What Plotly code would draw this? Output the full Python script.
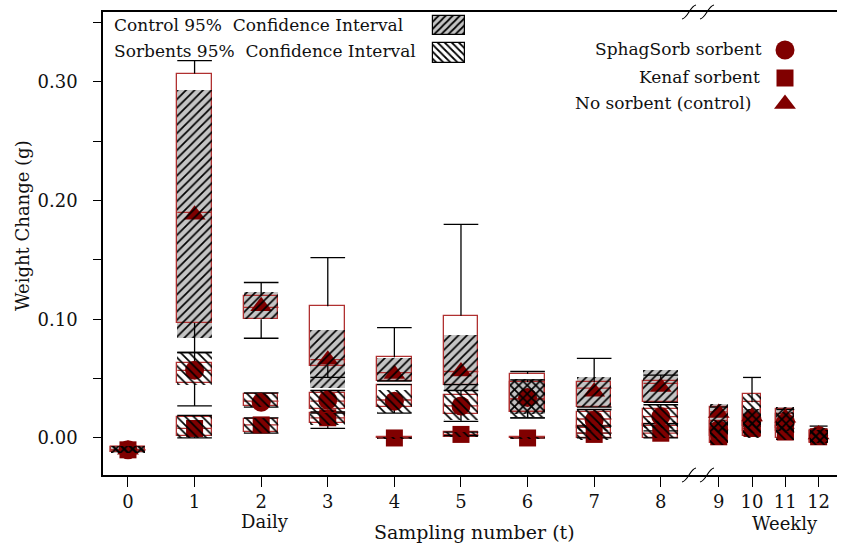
import plotly.graph_objects as go

# ---- data -------------------------------------------------------------
sampling_t = list(range(13))
tick_text = [str(t) for t in sampling_t]

# No sorbent (control)
ctrl_mean   = [-0.010, 0.188, 0.111, 0.066, 0.054, 0.056, 0.033, 0.039, 0.043, 0.021, 0.018, 0.017, 0.003]
ctrl_median = [-0.010, 0.190, 0.110, 0.066, 0.055, 0.056, 0.033, 0.042, 0.046, 0.022, 0.019, 0.016, 0.002]
ctrl_q1     = [-0.012, 0.097, 0.100, 0.061, 0.048, 0.045, 0.022, 0.026, 0.030, 0.007, 0.010, 0.008, -0.004]
ctrl_q3     = [-0.008, 0.307, 0.120, 0.111, 0.068, 0.103, 0.054, 0.047, 0.048, 0.026, 0.030, 0.024, 0.007]
ctrl_ci_lo  = [-0.013, 0.084, 0.100, 0.042, 0.048, 0.040, 0.020, 0.026, 0.030, 0.005, 0.008, 0.006, -0.004]
ctrl_ci_hi  = [-0.007, 0.293, 0.123, 0.091, 0.067, 0.087, 0.050, 0.051, 0.057, 0.029, 0.024, 0.026, 0.008]
ctrl_w_lo   = [None, 0.072, 0.084, 0.051, 0.048, 0.045, 0.017, 0.026, 0.030, 0.012, 0.010, 0.008, 0.001]
ctrl_w_hi   = [None, 0.318, 0.131, 0.152, 0.093, 0.180, 0.056, 0.067, 0.053, 0.026, 0.051, 0.024, 0.010]

# SphagSorb sorbent
sph_mean   = [-0.010, 0.057, 0.030, 0.032, 0.031, 0.027, 0.034, 0.015, 0.018, 0.007, 0.015, 0.013, 0.002]
sph_median = [-0.010, 0.057, 0.031, 0.031, 0.032, 0.027, 0.033, 0.016, 0.018, 0.008, 0.016, 0.012, 0.002]
sph_q1     = [-0.012, 0.046, 0.027, 0.024, 0.026, 0.020, 0.022, 0.008, 0.010, 0.002, 0.006, 0.006, -0.003]
sph_q3     = [-0.008, 0.063, 0.037, 0.038, 0.045, 0.036, 0.047, 0.022, 0.024, 0.014, 0.037, 0.020, 0.006]
sph_ci_lo  = [-0.013, 0.045, 0.026, 0.022, 0.021, 0.015, 0.018, 0.006, 0.008, 0.000, 0.004, 0.004, -0.004]
sph_ci_hi  = [-0.007, 0.072, 0.038, 0.040, 0.040, 0.040, 0.049, 0.024, 0.028, 0.015, 0.037, 0.022, 0.007]
sph_w_lo   = [None, 0.027, 0.026, 0.022, 0.021, 0.014, 0.017, 0.004, 0.006, None, None, None, None]
sph_w_hi   = [None, 0.072, 0.038, 0.040, 0.045, 0.040, 0.049, 0.024, 0.028, None, None, None, None]

# Kenaf sorbent
ken_mean   = [-0.010, 0.008, 0.011, 0.017, 0.000, 0.003, 0.000, 0.003, 0.004, 0.001, 0.008, 0.005, 0.001]
ken_median = [-0.010, 0.008, 0.011, 0.017, 0.000, 0.003, 0.000, 0.004, 0.004, 0.001, 0.008, 0.005, 0.001]
ken_q1     = [-0.012, 0.002, 0.005, 0.013, 0.000, 0.001, 0.000, 0.000, 0.000, -0.004, 0.002, 0.000, -0.004]
ken_q3     = [-0.008, 0.018, 0.016, 0.021, 0.001, 0.005, 0.001, 0.010, 0.012, 0.006, 0.013, 0.010, 0.006]
ken_ci_lo  = [-0.013, 0.000, 0.004, 0.011, -0.001, 0.001, -0.001, -0.002, 0.000, -0.006, 0.000, -0.002, -0.006]
ken_ci_hi  = [-0.007, 0.019, 0.017, 0.021, 0.001, 0.005, 0.001, 0.012, 0.014, 0.008, 0.014, 0.010, 0.007]
ken_w_lo   = [None, 0.000, 0.004, 0.008, 0.000, 0.002, 0.000, 0.000, 0.000, None, None, None, None]
ken_w_hi   = [None, 0.019, 0.017, 0.021, 0.000, 0.005, 0.000, 0.010, 0.012, None, None, None, None]

# ---- styling ----------------------------------------------------------
FONT = "DejaVu Serif"
MARK = "#800000"
BOXRED = "#b03030"
GRAY = "#c4c4c4"
TXT = "#111"
X_RANGE = [-0.375, 10.646]
Y_RANGE = [-0.0312, 0.3589]


def xpos(t):
    """Daily samples are spaced one unit apart, weekly ones half a unit after the break."""
    return t if t <= 8 else 8.87 + 0.5 * (t - 9)


def bwidth(t):
    return 0.52 if t <= 8 else 0.27


X = [xpos(t) for t in sampling_t]
W = [bwidth(t) for t in sampling_t]

fig = go.Figure()


def ci_fill(lo, hi, color):
    fig.add_trace(go.Bar(x=X, y=[h - l for l, h in zip(lo, hi)], base=lo, width=W,
                         marker=dict(color=color, line=dict(width=0)),
                         showlegend=False, hoverinfo="skip"))


def ci_hatch(lo, hi, shape):
    fig.add_trace(go.Bar(x=X, y=[h - l for l, h in zip(lo, hi)], base=lo, width=W,
                         xaxis="x2", yaxis="y2",
                         marker=dict(color="black", line=dict(width=0),
                                     pattern=dict(shape=shape, fgcolor="black",
                                                  bgcolor="rgba(0,0,0,0)",
                                                  size=6, solidity=0.28,
                                                  fillmode="replace")),
                         showlegend=False, hoverinfo="skip"))


def box_outline(q1, q3):
    fig.add_trace(go.Bar(x=X, y=[b - a for a, b in zip(q1, q3)], base=q1, width=W,
                         marker=dict(color="rgba(0,0,0,0)", line=dict(color=BOXRED, width=1.3)),
                         showlegend=False, hoverinfo="skip"))


def median_lines(med):
    xs, ys = [], []
    for x, w, m in zip(X, W, med):
        xs += [x - w / 2, x + w / 2, None]
        ys += [m, m, None]
    fig.add_trace(go.Scatter(x=xs, y=ys, mode="lines",
                             line=dict(color=BOXRED, width=1.3),
                             showlegend=False, hoverinfo="skip"))


def whiskers(lo, hi, q1, q3):
    """Whisker stems run from the box edges out to the capped ends."""
    xs, ys = [], []
    for x, w, a, b, bl, bh in zip(X, W, lo, hi, q1, q3):
        if a is None:
            continue
        if b > bh:
            xs += [x, x, None]
            ys += [bh, b, None]
        if a < bl:
            xs += [x, x, None]
            ys += [a, bl, None]
        for end in (a, b):
            xs += [x - w / 2, x + w / 2, None]
            ys += [end, end, None]
    fig.add_trace(go.Scatter(x=xs, y=ys, mode="lines",
                             line=dict(color="black", width=1.3),
                             showlegend=False, hoverinfo="skip"))


# CI backgrounds (sorbents white, control grey)
ci_fill(sph_ci_lo, sph_ci_hi, "white")
ci_fill(ken_ci_lo, ken_ci_hi, "white")
ci_fill(ctrl_ci_lo, ctrl_ci_hi, GRAY)

# red boxes
for q1, q3 in ((ctrl_q1, ctrl_q3), (sph_q1, sph_q3), (ken_q1, ken_q3)):
    box_outline(q1, q3)

# whiskers and medians
whiskers(ctrl_w_lo, ctrl_w_hi, ctrl_q1, ctrl_q3)
whiskers(sph_w_lo, sph_w_hi, sph_q1, sph_q3)
whiskers(ken_w_lo, ken_w_hi, ken_q1, ken_q3)
for med in (ctrl_median, sph_median, ken_median):
    median_lines(med)

# means
fig.add_trace(go.Scatter(x=X, y=ken_mean, mode="markers", name="Kenaf sorbent",
                         marker=dict(symbol="square", size=17, color=MARK), showlegend=False))
fig.add_trace(go.Scatter(x=X, y=sph_mean, mode="markers", name="SphagSorb sorbent",
                         marker=dict(symbol="circle", size=19, color=MARK), showlegend=False))
fig.add_trace(go.Scatter(x=X, y=ctrl_mean, mode="markers", name="No sorbent (control)",
                         marker=dict(symbol="triangle-up", size=19, color=MARK), showlegend=False))

# hatching drawn on top of everything in the data area
ci_hatch(sph_ci_lo, sph_ci_hi, "\\")
ci_hatch(ken_ci_lo, ken_ci_hi, "\\")
ci_hatch(ctrl_ci_lo, ctrl_ci_hi, "/")

# ---- key ---------------------------------------------------------------
PL, PR, PT, PB = 103, 837, 12, 475


def px(xp):
    return (xp - PL) / (PR - PL)


def py(yp):
    return (PB - yp) / (PB - PT)


# hatched swatches
for (y0, y1), shape, bg in (((16, 35), "/", GRAY), ((43, 63), "\\", "white")):
    fig.add_trace(go.Bar(x=[(px(433) + px(465)) / 2], y=[py(y0) - py(y1)], base=[py(y1)],
                         width=[px(465) - px(433)], xaxis="x3", yaxis="y3",
                         marker=dict(color=bg, line=dict(color="black", width=1.2),
                                     pattern=dict(shape=shape, fgcolor="black", bgcolor=bg,
                                                  size=5, solidity=0.35, fillmode="replace")),
                         showlegend=False, hoverinfo="skip"))

for sym, size, yp in (("circle", 19, 50), ("square", 17, 78), ("triangle-up", 19, 104)):
    fig.add_trace(go.Scatter(x=[px(785)], y=[py(yp)], mode="markers", xaxis="x3", yaxis="y3",
                             marker=dict(symbol=sym, size=size, color=MARK),
                             showlegend=False, hoverinfo="skip"))

annotations = [
    dict(text="Control 95%  Confidence Interval", x=px(112), y=py(25), xanchor="left", size=17),
    dict(text="Sorbents 95%  Confidence Interval", x=px(112), y=py(51), xanchor="left", size=17),
    dict(text="SphagSorb sorbent", x=px(764), y=py(49), xanchor="right", size=17),
    dict(text="Kenaf sorbent", x=px(762), y=py(77), xanchor="right", size=17),
    dict(text="No sorbent (control)", x=px(753), y=py(103), xanchor="right", size=17),
    dict(text="Daily", x=px(265), y=py(521), xanchor="center", size=18),
    dict(text="Sampling number (t)", x=px(474), y=py(532), xanchor="center", size=19),
    dict(text="Weekly", x=px(785), y=py(523), xanchor="center", size=18),
]
for a in annotations:
    size = a.pop("size")
    a.update(xref="paper", yref="paper", yanchor="middle", showarrow=False,
             font=dict(family=FONT, size=size, color=TXT))
annotations.append(dict(text="Weight Change (g)", x=px(22), y=py(226), xref="paper", yref="paper",
                        textangle=-90, showarrow=False, xanchor="center", yanchor="middle",
                        font=dict(family=FONT, size=18, color=TXT)))

# axis break marks
shapes = []
for yc in (PT, PB):
    for xc in (689, 707):
        x0, y0, x1, y1 = xc - 7, yc + 7, xc + 7, yc - 7
        shapes.append(dict(type="path", xref="paper", yref="paper",
                           path=f"M {px(x0)},{py(y0)} C {px(x0 + 6)},{py(y0 - 1)} "
                                f"{px(x1 - 6)},{py(y1 + 1)} {px(x1)},{py(y1)}",
                           line=dict(color="black", width=1.1)))

fig.update_layout(
    width=841, height=546,
    margin=dict(l=PL, r=841 - PR, t=PT, b=546 - PB),
    paper_bgcolor="white", plot_bgcolor="white",
    barmode="overlay", bargap=0,
    showlegend=False,
    font=dict(family=FONT, color=TXT),
    xaxis=dict(range=X_RANGE, tickvals=X, ticktext=tick_text, ticks="outside", ticklen=10,
               tickwidth=1.3, tickcolor="black", showline=True, linecolor="black", linewidth=1.5,
               mirror=True, showgrid=False, zeroline=False,
               tickfont=dict(family=FONT, size=18, color=TXT)),
    yaxis=dict(range=Y_RANGE, tickvals=[0, 0.1, 0.2, 0.3], tickformat=".2f", ticks="outside",
               ticklen=8, tickwidth=1.3, tickcolor="black", showline=True, linecolor="black",
               linewidth=1.5, showgrid=False, zeroline=False, ticklabelstandoff=12,
               minor=dict(tickvals=[0.05, 0.15, 0.25, 0.35], ticks="outside", ticklen=8,
                          tickwidth=1.3, tickcolor="black", showgrid=False),
               tickfont=dict(family=FONT, size=18, color=TXT)),
    xaxis2=dict(range=X_RANGE, overlaying="x", visible=False, anchor="y2"),
    yaxis2=dict(range=Y_RANGE, overlaying="y", visible=False, anchor="x2"),
    xaxis3=dict(range=[0, 1], overlaying="x", visible=False, anchor="y3"),
    yaxis3=dict(range=[0, 1], overlaying="y", visible=False, anchor="x3"),
    annotations=annotations,
    shapes=shapes,
)

fig.write_html("out.html")
